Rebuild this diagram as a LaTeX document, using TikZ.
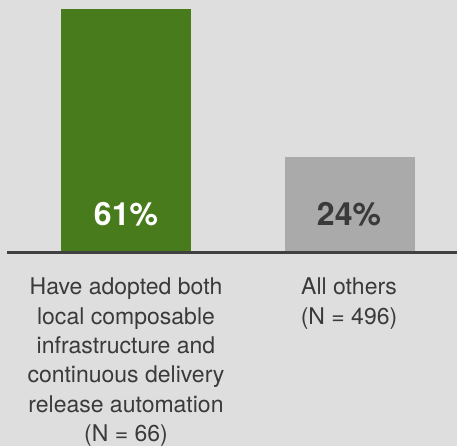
\documentclass[tikz,border=0pt]{standalone}
\usepackage{fontspec}
\setmainfont{TeX Gyre Heros}
\definecolor{bg}{HTML}{DEDEDE}
\definecolor{barg}{HTML}{477B1B}
\definecolor{bargr}{HTML}{AAAAAA}
\definecolor{axis}{HTML}{404040}
\definecolor{txt}{HTML}{3A3A3A}
\begin{document}
\begin{tikzpicture}[x=1pt,y=-1pt,
  val/.style={font=\fontsize{32}{36}\selectfont\bfseries, anchor=center},
  lab/.style={font=\fontsize{23}{29.3}\selectfont, text=txt, align=center, anchor=north, inner sep=0pt}]
\fill[bg] (0,0) rectangle (457,446);
\useasboundingbox (0,0) rectangle (457,446);
\fill[barg] (61,9) rectangle (191,252);
\fill[bargr] (285,157) rectangle (415,252);
\draw[axis, line width=2.5pt] (7,252.5) -- (457,252.5);
\node[val, text=white] (v1) at (126,214) {61\%};
\node[val, text=txt] (v2) at (349,214) {24\%};
\node[lab] (l1) at (126,278) {Have adopted both\\local composable\\infrastructure and\\continuous delivery\\release automation\\(N = 66)};
\node[lab] (l2) at (349,278) {All others\\(N = 496)};
\end{tikzpicture}
\end{document}
